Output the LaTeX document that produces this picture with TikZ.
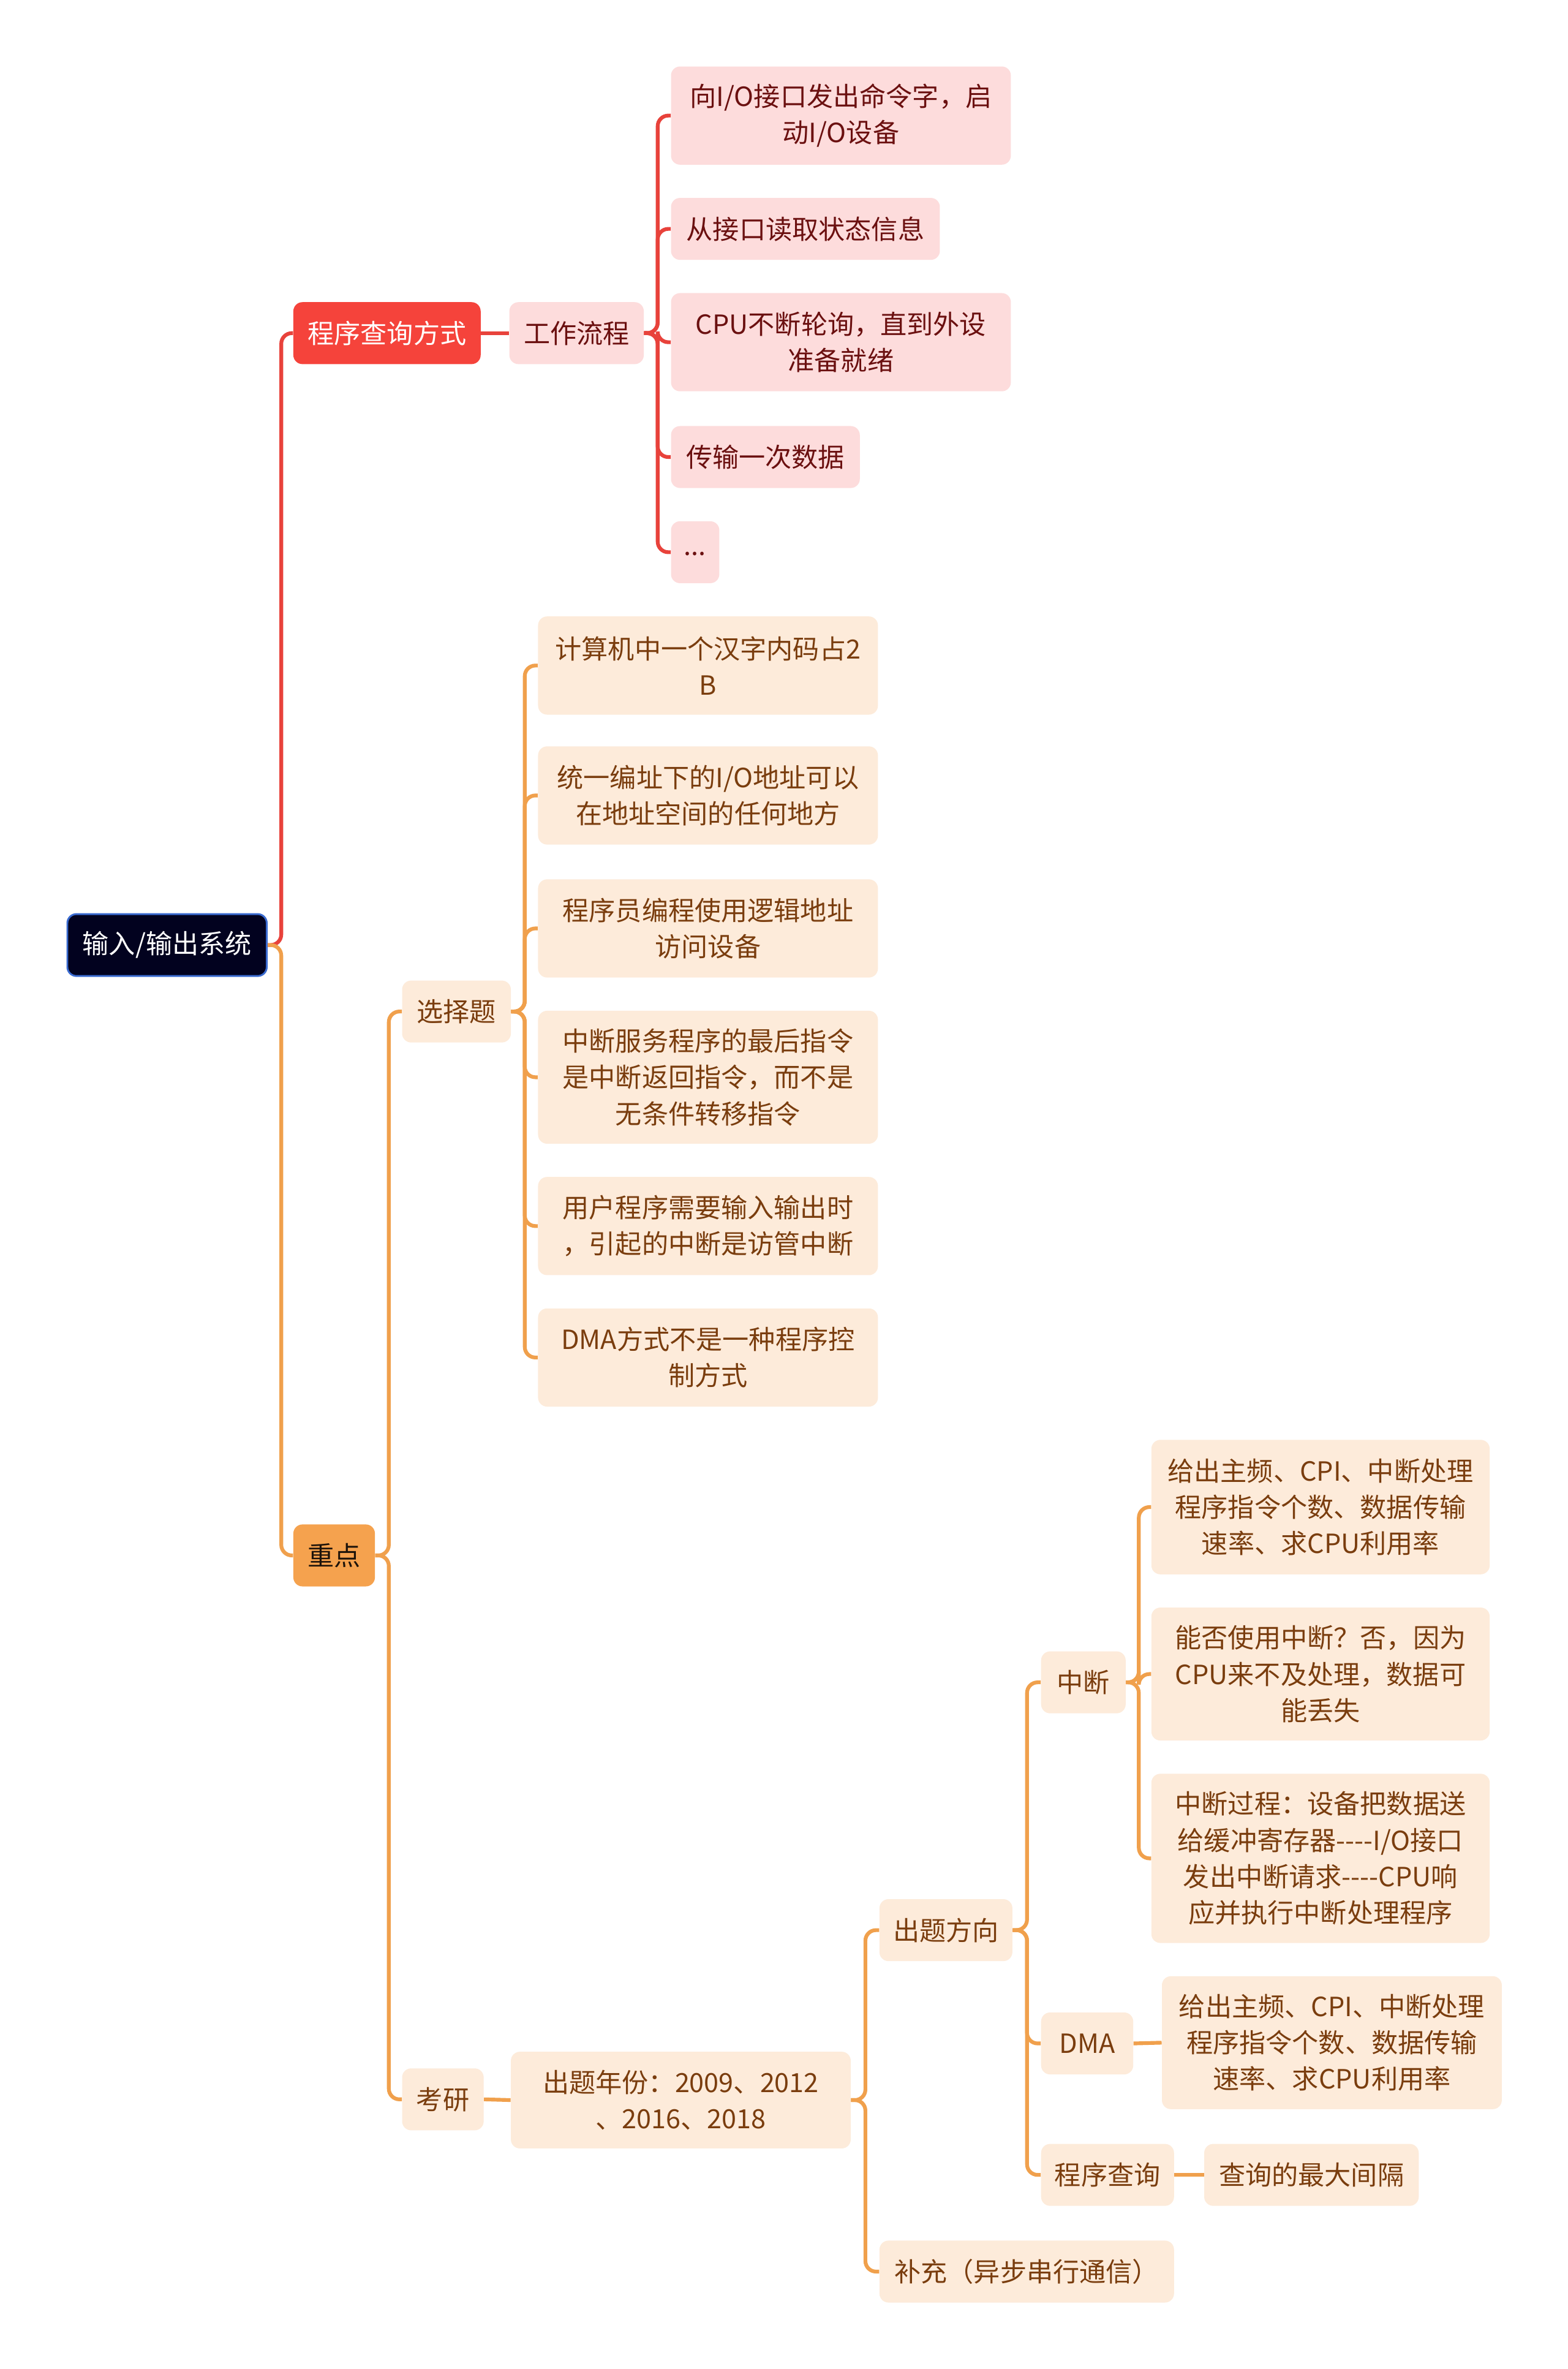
\documentclass[tikz,border=0pt]{standalone}
\usepackage{fontspec}
\setmainfont{Noto Sans CJK SC}
\definecolor{rootfill}{HTML}{02021F}
\definecolor{rootline}{HTML}{3A6BD0}
\definecolor{mainred}{HTML}{F5433B}
\definecolor{pinkfill}{HTML}{FDDCDC}
\definecolor{pinktext}{HTML}{6B1010}
\definecolor{mainorange}{HTML}{F5A24E}
\definecolor{peachfill}{HTML}{FDEBDA}
\definecolor{peachtext}{HTML}{7A3D0E}
\definecolor{redline}{HTML}{E8423B}
\definecolor{orangeline}{HTML}{F0A04C}
\tikzset{
  base/.style = {anchor = west, align = center, inner sep = 0pt,
                 rounded corners = 6pt,
                 font = \fontsize{17.5}{24}\selectfont},
  sz/.style 2 args = {minimum width = #1pt, minimum height = #2pt},
  rootnode/.style = {base, fill = rootfill, draw = rootline,
                     line width = 1.2pt, text = white},
  rednode/.style = {base, fill = mainred, text = white},
  pinknode/.style = {base, fill = pinkfill, text = pinktext},
  orangenode/.style = {base, fill = mainorange, text = black!85!brown},
  peachnode/.style = {base, fill = peachfill, text = peachtext},
  redlink/.style = {draw = redline, line width = 2.5pt, rounded corners = 7pt},
  orangelink/.style = {draw = orangeline, line width = 2.5pt, rounded corners = 7pt}
}
\begin{document}
\begin{tikzpicture}[x = 1pt, y = -1pt]
  \fill [white] (0,0) rectangle (1038,1568);
  \useasboundingbox (0,0) rectangle (1038,1568);

  % root
  \node [rootnode, sz = {132}{41}] (root) at (44,625.5) {输入/输出系统};

  % 程序查询方式
  \node [rednode, sz = {124}{41}] (cxfs) at (194,220.5) {程序查询方式};
  \node [pinknode, sz = {89}{41}] (gzlc) at (337,220.5) {工作流程};
  \node [pinknode, sz = {225}{65}] (lc1) at (444,76.5)
    {向I/O接口发出命令字，启\\动I/O设备};
  \node [pinknode, sz = {178}{41}] (lc2) at (444,151.5) {从接口读取状态信息};
  \node [pinknode, sz = {225}{65}] (lc3) at (444,226.5)
    {CPU不断轮询，直到外设\\准备就绪};
  \node [pinknode, sz = {125}{41}] (lc4) at (444,302.5) {传输一次数据};
  \node [pinknode, sz = {32}{41}] (lc5) at (444,365.5) {\raisebox{-4pt}{...}};

  % 重点
  \node [orangenode, sz = {54}{41}] (zd) at (194,1029.5) {重点};
  \node [peachnode, sz = {72}{41}] (xzt) at (266,669.5) {选择题};
  \node [peachnode, sz = {225}{65}] (xz1) at (356,440.5)
    {计算机中一个汉字内码占2\\B};
  \node [peachnode, sz = {225}{65}] (xz2) at (356,526.5)
    {统一编址下的I/O地址可以\\在地址空间的任何地方};
  \node [peachnode, sz = {225}{65}] (xz3) at (356,614.5)
    {程序员编程使用逻辑地址\\访问设备};
  \node [peachnode, sz = {225}{88}] (xz4) at (356,713)
    {中断服务程序的最后指令\\是中断返回指令，而不是\\无条件转移指令};
  \node [peachnode, sz = {225}{65}] (xz5) at (356,811.5)
    {用户程序需要输入输出时\\，引起的中断是访管中断};
  \node [peachnode, sz = {225}{65}] (xz6) at (356,898.5)
    {DMA方式不是一种程序控\\制方式};

  \node [peachnode, sz = {54}{41}] (ky) at (266,1389.5) {考研};
  \node [peachnode, sz = {225}{64}] (ctnf) at (338,1390)
    {出题年份：2009、2012\\、2016、2018};
  \node [peachnode, sz = {88}{41}] (ctfx) at (582,1277.5) {出题方向};
  \node [peachnode, sz = {195}{41}] (bc) at (582,1503.5) {补充（异步串行通信）};
  \node [peachnode, sz = {56}{41}] (zdan) at (689,1113.5) {中断};
  \node [peachnode, sz = {61}{41}] (dma) at (689,1352.5) {DMA};
  \node [peachnode, sz = {88}{41}] (cxcx) at (689,1439.5) {程序查询};
  \node [peachnode, sz = {142}{41}] (zdjg) at (797,1439.5) {查询的最大间隔};
  \node [peachnode, sz = {224}{89}] (zd1) at (762,997.5)
    {给出主频、CPI、中断处理\\程序指令个数、数据传输\\速率、求CPU利用率};
  \node [peachnode, sz = {224}{88}] (zd2) at (762,1108)
    {能否使用中断？否，因为\\CPU来不及处理，数据可\\能丢失};
  \node [peachnode, sz = {224}{112}] (zd3) at (762,1230)
    {中断过程：设备把数据送\\给缓冲寄存器-{}-{}-{}-I/O接口\\发出中断请求-{}-{}-{}-CPU响\\应并执行中断处理程序};
  \node [peachnode, sz = {225}{88}] (dma1) at (769,1352)
    {给出主频、CPI、中断处理\\程序指令个数、数据传输\\速率、求CPU利用率};

  % links
  \draw [redlink] (root.east) -- ++(9,0) |- (cxfs.west);
  \draw [orangelink] (root.east) -- ++(9,0) |- (zd.west);
  \draw [redlink] (cxfs.east) -- (gzlc.west);
  \foreach \c in {lc1,lc2,lc3,lc4,lc5}
    \draw [redlink] (gzlc.east) -- ++(9,0) |- (\c.west);
  \foreach \c in {xzt,ky}
    \draw [orangelink] (zd.east) -- ++(9,0) |- (\c.west);
  \foreach \c in {xz1,xz2,xz3,xz4,xz5,xz6}
    \draw [orangelink] (xzt.east) -- ++(9,0) |- (\c.west);
  \draw [orangelink] (ky.east) -- (ctnf.west);
  \foreach \c in {ctfx,bc}
    \draw [orangelink] (ctnf.east) -- ++(9.5,0) |- (\c.west);
  \foreach \c in {zdan,dma,cxcx}
    \draw [orangelink] (ctfx.east) -- ++(9.5,0) |- (\c.west);
  \foreach \c in {zd1,zd2,zd3}
    \draw [orangelink] (zdan.east) -- ++(8.5,0) |- (\c.west);
  \draw [orangelink] (dma.east) -- (dma1.west);
  \draw [orangelink] (cxcx.east) -- (zdjg.west);
\end{tikzpicture}
\end{document}
